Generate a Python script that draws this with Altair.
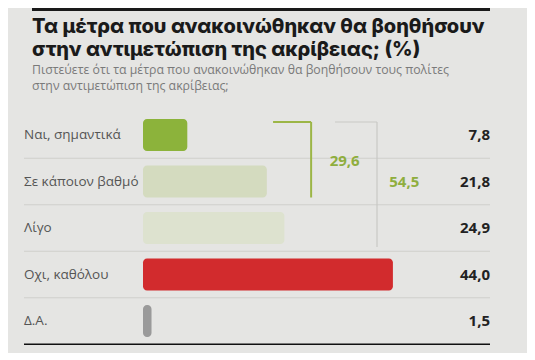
import altair as alt
import pandas as pd

# ---- data ----
categories = ["Ναι, σημαντικά", "Σε κάποιον βαθμό", "Λίγο", "Οχι, καθόλου", "Δ.Α."]
values = [7.8, 21.8, 24.9, 44.0, 1.5]
value_labels = ["7,8", "21,8", "24,9", "44,0", "1,5"]
bar_colors = ["#8cb33b", "#d4dbbf", "#dde2cf", "#d22b2d", "#9a9a9a"]
group_totals = [29.6, 54.5]
group_labels = ["29,6", "54,5"]

title_lines = ["Τα μέτρα που ανακοινώθηκαν θα βοηθήσουν",
               "στην αντιμετώπιση της ακρίβειας; (%)"]
subtitle_lines = ["Πιστεύετε ότι τα μέτρα που ανακοινώθηκαν θα βοηθήσουν τους πολίτες",
                  "στην αντιμετώπιση της ακρίβειας;"]

# ---- layout ----
W, H = 519, 345
BG = "#e5e5e3"
xs = alt.Scale(domain=[-23.77, 67.61], range=[0, W], zero=False, nice=False)
ys = alt.Scale(domain=categories, range=[103.75, 336.25], paddingInner=0, paddingOuter=0)

df = pd.DataFrame({"cat": categories, "val": values, "lab": value_labels, "col": bar_colors})
df["zero"] = 0.0
df["is_last"] = [False, False, False, False, True]

Y = alt.Y("cat:N", scale=ys, axis=None, sort=categories)

bars = alt.Chart(df).mark_bar(height=32, cornerRadius=4).encode(
    x=alt.X("zero:Q", scale=xs, axis=None),
    x2="val:Q",
    y=Y,
    color=alt.Color("col:N", scale=None),
)

cat_text = alt.Chart(df).mark_text(align="left", baseline="middle", font="Open Sans",
                                   fontSize=13.5, color="#555555").encode(
    x=alt.value(16), y=Y, text="cat:N")

val_text = alt.Chart(df).mark_text(align="right", baseline="middle", font="Open Sans",
                                   fontSize=15, fontWeight="bold", color="#222222").encode(
    x=alt.value(482), y=Y, text="lab:N")

seps = alt.Chart(df).mark_rule().encode(
    x=alt.value(16), x2=alt.value(482),
    y=alt.Y("cat:N", scale=ys, axis=None, sort=categories, bandPosition=1),
    color=alt.condition("datum.is_last", alt.value("#111111"), alt.value("#cfcfcc")),
    strokeWidth=alt.condition("datum.is_last", alt.value(1.6), alt.value(1)),
)

# brackets
b1 = pd.DataFrame({"cat": [categories[0]], "cat2": [categories[1]],
                   "x0": [22.9], "x1": [group_totals[0]]})
b1h = alt.Chart(b1).mark_rule(color="#9cb646", strokeWidth=2, yOffset=-13).encode(
    x=alt.X("x0:Q", scale=xs), x2="x1:Q", y=Y)
b1v = alt.Chart(b1).mark_rule(color="#9cb646", strokeWidth=2, yOffset=-13, y2Offset=16).encode(
    x=alt.X("x1:Q", scale=xs), y=Y, y2="cat2:N")

b2 = pd.DataFrame({"cat": [categories[0]], "cat2": [categories[2]],
                   "x0": [33.8], "x1": [41.2]})
b2h = alt.Chart(b2).mark_rule(color="#c9c9c5", strokeWidth=1.2, yOffset=-13).encode(
    x=alt.X("x0:Q", scale=xs), x2="x1:Q", y=Y)
b2v = alt.Chart(b2).mark_rule(color="#c9c9c5", strokeWidth=1.2, yOffset=-13, y2Offset=19).encode(
    x=alt.X("x1:Q", scale=xs), y=Y, y2="cat2:N")

g_df = pd.DataFrame({"lab": group_labels, "cat": [categories[0], categories[1]],
                     "xpos": [35.5, 46.0]})
g1 = alt.Chart(g_df.iloc[[0]]).mark_text(font="Open Sans", fontSize=15, fontWeight="bold",
                                         color="#8fae3e", baseline="middle", yOffset=26).encode(
    x=alt.X("xpos:Q", scale=xs), y=Y, text="lab:N")
g2 = alt.Chart(g_df.iloc[[1]]).mark_text(font="Open Sans", fontSize=15, fontWeight="bold",
                                         color="#8fae3e", baseline="middle").encode(
    x=alt.X("xpos:Q", scale=xs), y=Y, text="lab:N")

# header
hdr = pd.DataFrame({"t": [0]})
topbar = alt.Chart(hdr).mark_rect(color="#1a1a1a").encode(
    x=alt.value(24), x2=alt.value(482), y=alt.value(0), y2=alt.value(3))
t1 = alt.Chart(hdr).mark_text(text=title_lines[0], align="left", baseline="alphabetic",
                              font="Inter", fontSize=20, fontWeight=800, color="#1a1a1a").encode(
    x=alt.value(24), y=alt.value(25))
t2 = alt.Chart(hdr).mark_text(text=title_lines[1], align="left", baseline="alphabetic",
                              font="Inter", fontSize=20, fontWeight=800, color="#1a1a1a").encode(
    x=alt.value(24), y=alt.value(48))
s1 = alt.Chart(hdr).mark_text(text=subtitle_lines[0], align="left", baseline="alphabetic",
                              font="Open Sans", fontSize=12.3, color="#7a7a7a").encode(
    x=alt.value(24), y=alt.value(66))
s2 = alt.Chart(hdr).mark_text(text=subtitle_lines[1], align="left", baseline="alphabetic",
                              font="Open Sans", fontSize=12.3, color="#7a7a7a").encode(
    x=alt.value(24), y=alt.value(82))

chart = alt.layer(seps, bars, b1h, b1v, b2h, b2v, g1, g2, cat_text, val_text,
                  topbar, t1, t2, s1, s2).properties(
    width=W, height=H, padding=0, autosize=alt.AutoSizeParams(type="none"),
    background=BG,
).configure_view(stroke=None)

chart.save("out.html", embed_options={"renderer": "svg", "actions": False})
